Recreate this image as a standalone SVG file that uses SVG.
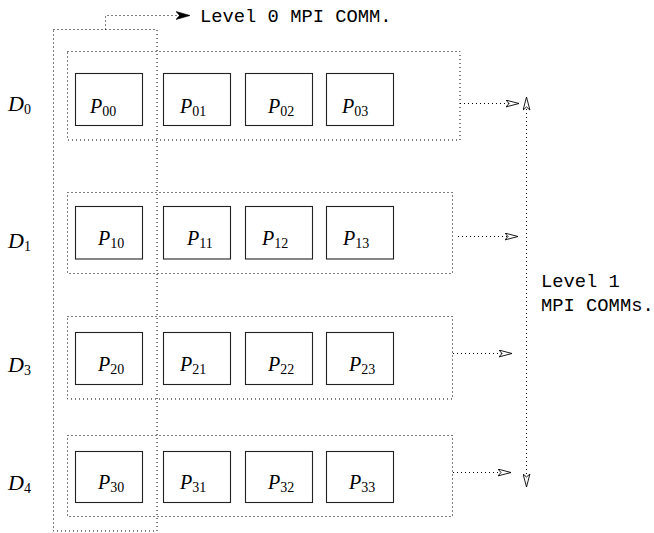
<svg xmlns="http://www.w3.org/2000/svg" width="654" height="533" viewBox="0 0 654 533">
  <style>
    .dot { fill: none; stroke: #000; stroke-width: 1; stroke-dasharray: 1 3; }
    .proc { fill: #fff; stroke: #222; stroke-width: 1.1; }
    .math { font-family: "Liberation Serif", "DejaVu Serif", serif; font-style: italic; font-size: 22px; fill: #000; }
    .pm { font-family: "Liberation Serif", "DejaVu Serif", serif; font-style: italic; font-size: 20px; fill: #000; }
    .sub { font-style: normal; font-size: 14px; }
    .mono { font-family: "Liberation Mono", "Courier New", monospace; font-size: 18.8px; fill: #000; }
  </style>
  <defs>
    <marker id="open" viewBox="0 0 14 8" refX="13.5" refY="4" markerWidth="14" markerHeight="8" markerUnits="userSpaceOnUse" orient="auto-start-reverse">
      <path d="M0.5,0.6 L13.5,4 L0.5,7.4 L3.5,4 Z" fill="#fff" stroke="#000" stroke-width="0.9" stroke-linejoin="miter"/>
    </marker>
    <marker id="solid" viewBox="0 0 15 9" refX="14.5" refY="4.5" markerWidth="15" markerHeight="9" markerUnits="userSpaceOnUse" orient="auto">
      <path d="M0.5,0.5 L14.5,4.5 L0.5,8.5 L4,4.5 Z" fill="#000" stroke="#000" stroke-width="0.6"/>
    </marker>
  </defs>

  <!-- level 0 communicator: the first column of processes -->
  <g id="level0-comm">
    <rect class="dot" x="53.5" y="29.5" width="103.5" height="501.5"/>
  </g>

  <!-- level 1 communicators: one dotted frame per row -->
  <g id="row-D0">
    <rect class="dot" x="67.5" y="51.5" width="392.5" height="88.5"/>
    <text class="math" x="8" y="111">D<tspan class="sub" dy="3">0</tspan></text>
  </g>
  <g id="row-D1">
    <rect class="dot" x="67.5" y="192.5" width="385" height="81"/>
    <text class="math" x="8" y="248">D<tspan class="sub" dy="3">1</tspan></text>
  </g>
  <g id="row-D3">
    <rect class="dot" x="67.5" y="316.5" width="385" height="82.5"/>
    <text class="math" x="8" y="372">D<tspan class="sub" dy="3">3</tspan></text>
  </g>
  <g id="row-D4">
    <rect class="dot" x="67.5" y="435.5" width="385" height="81"/>
    <text class="math" x="8" y="490">D<tspan class="sub" dy="3">4</tspan></text>
  </g>

  <!-- processes -->
  <g id="P00"><rect class="proc" x="75.5" y="73.5" width="67" height="52"/><text class="pm" x="90" y="113">P<tspan class="sub" dy="3">00</tspan></text></g>
  <g id="P01"><rect class="proc" x="163.5" y="73.5" width="67" height="52"/><text class="pm" x="180" y="113">P<tspan class="sub" dy="3">01</tspan></text></g>
  <g id="P02"><rect class="proc" x="245.5" y="73.5" width="67" height="52"/><text class="pm" x="268" y="113">P<tspan class="sub" dy="3">02</tspan></text></g>
  <g id="P03"><rect class="proc" x="326.5" y="73.5" width="67" height="52"/><text class="pm" x="342" y="113">P<tspan class="sub" dy="3">03</tspan></text></g>

  <g id="P10"><rect class="proc" x="75.5" y="206.5" width="67" height="52.5"/><text class="pm" x="98" y="245">P<tspan class="sub" dy="3">10</tspan></text></g>
  <g id="P11"><rect class="proc" x="163.5" y="206.5" width="67" height="52.5"/><text class="pm" x="187" y="245">P<tspan class="sub" dy="3">11</tspan></text></g>
  <g id="P12"><rect class="proc" x="245.5" y="206.5" width="67" height="52.5"/><text class="pm" x="262" y="245">P<tspan class="sub" dy="3">12</tspan></text></g>
  <g id="P13"><rect class="proc" x="326.5" y="206.5" width="67" height="52.5"/><text class="pm" x="343" y="245">P<tspan class="sub" dy="3">13</tspan></text></g>

  <g id="P20"><rect class="proc" x="75.5" y="332.5" width="67" height="52"/><text class="pm" x="98" y="371">P<tspan class="sub" dy="3">20</tspan></text></g>
  <g id="P21"><rect class="proc" x="163.5" y="332.5" width="67" height="52"/><text class="pm" x="180" y="371">P<tspan class="sub" dy="3">21</tspan></text></g>
  <g id="P22"><rect class="proc" x="245.5" y="332.5" width="67" height="52"/><text class="pm" x="268" y="371">P<tspan class="sub" dy="3">22</tspan></text></g>
  <g id="P23"><rect class="proc" x="326.5" y="332.5" width="67" height="52"/><text class="pm" x="349" y="371">P<tspan class="sub" dy="3">23</tspan></text></g>

  <g id="P30"><rect class="proc" x="75.5" y="451.5" width="67" height="51"/><text class="pm" x="98" y="489">P<tspan class="sub" dy="3">30</tspan></text></g>
  <g id="P31"><rect class="proc" x="163.5" y="451.5" width="67" height="51"/><text class="pm" x="180" y="489">P<tspan class="sub" dy="3">31</tspan></text></g>
  <g id="P32"><rect class="proc" x="245.5" y="451.5" width="67" height="51"/><text class="pm" x="268" y="489">P<tspan class="sub" dy="3">32</tspan></text></g>
  <g id="P33"><rect class="proc" x="326.5" y="451.5" width="67" height="51"/><text class="pm" x="349" y="489">P<tspan class="sub" dy="3">33</tspan></text></g>

  <!-- connectors -->
  <g id="connectors">
    <path class="dot" d="M105.5,29.5 V15.5 H190" marker-end="url(#solid)"/>
    <line class="dot" x1="460" y1="103.5" x2="519" y2="103.5" marker-end="url(#open)"/>
    <line class="dot" x1="458" y1="236.5" x2="518" y2="236.5" marker-end="url(#open)"/>
    <line class="dot" x1="453" y1="353.5" x2="512" y2="353.5" marker-end="url(#open)"/>
    <line class="dot" x1="453" y1="472.5" x2="511" y2="472.5" marker-end="url(#open)"/>
    <line class="dot" x1="526.5" y1="97" x2="526.5" y2="487" marker-start="url(#open)" marker-end="url(#open)"/>
  </g>

  <!-- labels -->
  <g id="labels">
    <text class="mono" x="200" y="21.5">Level 0 MPI COMM.</text>
    <text class="mono" x="541" y="287">Level 1</text>
    <text class="mono" x="541" y="311">MPI COMMs.</text>
  </g>
</svg>
